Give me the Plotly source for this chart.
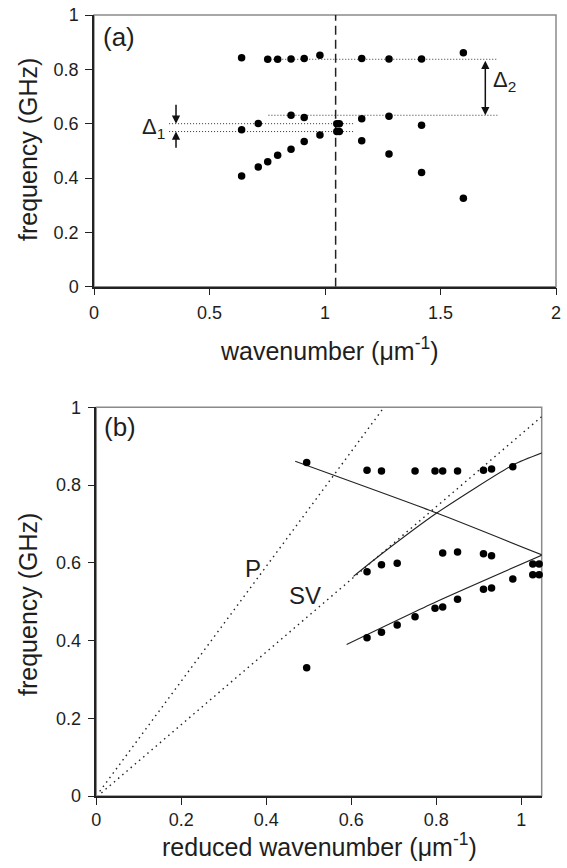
import plotly.graph_objects as go

# ---------------- Panel (a) data ----------------
a_upper_x = [0.639, 0.752, 0.795, 0.853, 0.910, 0.978, 1.159, 1.277, 1.418, 1.599]
a_upper_y = [0.843, 0.837, 0.837, 0.838, 0.840, 0.852, 0.840, 0.838, 0.838, 0.861]
a_mid_x = [0.639, 0.711, 0.853, 0.910, 1.051, 1.062, 1.051, 1.062, 1.159, 1.277, 1.418]
a_mid_y = [0.578, 0.601, 0.631, 0.623, 0.600, 0.600, 0.571, 0.571, 0.618, 0.627, 0.594]
a_low_x = [0.639, 0.711, 0.752, 0.795, 0.853, 0.910, 0.978, 1.159, 1.277, 1.418, 1.599]
a_low_y = [0.407, 0.441, 0.460, 0.484, 0.506, 0.534, 0.558, 0.537, 0.488, 0.420, 0.326]

a_vline_x = 1.046
# horizontal dotted guide lines: (x_start, x_end, y)
a_guides_x0 = [0.75, 0.755, 0.325, 0.325]
a_guides_x1 = [1.746, 1.746, 1.13, 1.13]
a_guides_y = [0.837, 0.631, 0.600, 0.571]

# ---------------- Panel (b) data ----------------
b_x = [0.495, 0.495,
       0.637, 0.671, 0.750, 0.797, 0.815, 0.850, 0.911, 0.930, 0.980,
       0.637, 0.671, 0.708, 0.815, 0.850, 0.911, 0.930, 1.027, 1.042, 1.027, 1.042,
       0.637, 0.671, 0.708, 0.750, 0.797, 0.815, 0.850, 0.911, 0.930, 0.980]
b_y = [0.858, 0.330,
       0.838, 0.836, 0.836, 0.836, 0.836, 0.836, 0.838, 0.841, 0.847,
       0.577, 0.595, 0.599, 0.625, 0.628, 0.623, 0.618, 0.597, 0.597, 0.569, 0.569,
       0.407, 0.421, 0.440, 0.461, 0.483, 0.486, 0.506, 0.532, 0.535, 0.558]

# fitted curves
b_down_x = [0.468, 0.801, 1.049]
b_down_y = [0.861, 0.728, 0.620]
b_up_x = [0.605, 0.668, 0.801, 0.981, 1.052]
b_up_y = [0.565, 0.620, 0.728, 0.852, 0.884]
b_low_x = [0.589, 0.800, 1.049]
b_low_y = [0.390, 0.500, 0.620]
# sound lines
p_x = [0.008, 0.677]
p_y = [0.012, 1.0]
sv_x = [0.012, 1.048]
sv_y = [0.008, 0.976]

# tick labels
a_xticks = [0, 0.5, 1, 1.5, 2]
a_xtext = ["0", "0.5", "1", "1.5", "2"]
b_xticks = [0, 0.2, 0.4, 0.6, 0.8, 1.0]
b_xtext = ["0", "0.2", "0.4", "0.6", "0.8", "1"]
yticks = [0, 0.2, 0.4, 0.6, 0.8, 1.0]
ytext = ["0", "0.2", "0.4", "0.6", "0.8", "1"]

W, H = 567, 868
INK = "#1e1e1e"
FONT = "Liberation Sans, Arial, sans-serif"

fig = go.Figure()

mk = dict(color="black", size=7.5)

# ---- panel (a) ----
for gx0, gx1, gy in zip(a_guides_x0, a_guides_x1, a_guides_y):
    fig.add_trace(go.Scatter(x=[gx0, gx1], y=[gy, gy], mode="lines",
                             line=dict(color="#333", width=1, dash="1px,2px"),
                             xaxis="x", yaxis="y", hoverinfo="skip"))
fig.add_trace(go.Scatter(x=[a_vline_x, a_vline_x], y=[0, 1], mode="lines",
                         line=dict(color="#222", width=1.5, dash="9px,5px"),
                         xaxis="x", yaxis="y", hoverinfo="skip"))
for xs, ys in [(a_upper_x, a_upper_y), (a_mid_x, a_mid_y), (a_low_x, a_low_y)]:
    fig.add_trace(go.Scatter(x=xs, y=ys, mode="markers", marker=mk,
                             xaxis="x", yaxis="y", cliponaxis=False))

# ---- panel (b) ----
for xs, ys in [(p_x, p_y), (sv_x, sv_y)]:
    fig.add_trace(go.Scatter(x=xs, y=ys, mode="lines",
                             line=dict(color="#222", width=1.4, dash="1.5px,4px"),
                             xaxis="x2", yaxis="y2", hoverinfo="skip"))
for xs, ys in [(b_down_x, b_down_y), (b_up_x, b_up_y), (b_low_x, b_low_y)]:
    fig.add_trace(go.Scatter(x=xs, y=ys, mode="lines",
                             line=dict(color="#222", width=1.1, shape="spline", smoothing=0.6),
                             xaxis="x2", yaxis="y2", hoverinfo="skip", cliponaxis=False))
fig.add_trace(go.Scatter(x=b_x, y=b_y, mode="markers", marker=mk,
                         xaxis="x2", yaxis="y2", cliponaxis=False))

tickfont = dict(family=FONT, size=18, color=INK)
axcommon = dict(showgrid=False, zeroline=False, showline=True, linecolor="#222",
                linewidth=1.5, ticks="outside", ticklen=7, tickwidth=1.3,
                tickcolor="#222", tickfont=tickfont, fixedrange=True,
                automargin=False)

fig.update_layout(
    width=W, height=H, margin=dict(l=0, r=0, t=0, b=0),
    paper_bgcolor="white", plot_bgcolor="white", showlegend=False,
    xaxis=dict(domain=[94 / W, 556 / W], range=[0, 2], tickvals=a_xticks,
               ticktext=a_xtext, anchor="y", ticklabelstandoff=2, **axcommon),
    yaxis=dict(domain=[1 - 286.7 / H, 1 - 15 / H], range=[0, 1], tickvals=yticks,
               ticktext=ytext, anchor="x", ticklabelstandoff=3, **axcommon),
    xaxis2=dict(domain=[96.3 / W, 541.7 / W], range=[0, 1.048], tickvals=b_xticks,
                ticktext=b_xtext, anchor="y2", ticklabelstandoff=0, **axcommon),
    yaxis2=dict(domain=[1 - 796 / H, 1 - 407.3 / H], range=[0, 1], tickvals=yticks,
                ticktext=ytext, anchor="x2", ticklabelstandoff=3, **axcommon),
)

# gray frames
for xr, yr in [("x", "y"), ("x2", "y2")]:
    fig.add_shape(type="rect", xref=f"{xr} domain", yref=f"{yr} domain",
                  x0=0, x1=1, y0=0, y1=1, line=dict(color="#8a8a8a", width=1.5),
                  layer="below")

ann = []
def txt(text, x, y, xref, yref, size, xanchor="center", yanchor="middle", angle=0):
    ann.append(dict(text=text, x=x, y=y, xref=xref, yref=yref, showarrow=False,
                    xanchor=xanchor, yanchor=yanchor, textangle=angle,
                    font=dict(family=FONT, size=size, color=INK)))

# axis titles
txt("frequency (GHz)", 28 / W, 1 - 150 / H, "paper", "paper", 25, angle=-90)
txt("frequency (GHz)", 28 / W, 1 - 605 / H, "paper", "paper", 25, angle=-90)
txt("wavenumber (\u03bcm<sup>-1</sup>)", 329 / W, 1 - 349 / H, "paper", "paper", 25)
txt("reduced wavenumber (\u03bcm<sup>-1</sup>)", 319 / W, 1 - 845 / H, "paper", "paper", 25)

# panel labels
txt("(a)", 0.108, 0.919, "x", "y", 26)
txt("(b)", 0.056, 0.949, "x2", "y2", 26)
txt("P", 0.368, 0.586, "x2", "y2", 24)
txt("SV", 0.490, 0.515, "x2", "y2", 24)
txt("\u0394<sub>1</sub>", 0.318, 0.585, "x", "y", 22, xanchor="right")
txt("\u0394<sub>2</sub>", 1.72, 0.757, "x", "y", 22, xanchor="left")

# arrows
def arrow(x, y, ax, ay, side="end"):
    ann.append(dict(x=x, y=y, ax=ax, ay=ay, xref="x", yref="y", axref="x", ayref="y",
                    text="", showarrow=True, arrowhead=2, arrowsize=1.1,
                    arrowwidth=1.5, arrowcolor="#111", arrowside=side,
                    startarrowhead=2, startarrowsize=1.1))

arrow(0.355, 0.600, 0.355, 0.675)
arrow(0.355, 0.571, 0.355, 0.506)
arrow(1.694, 0.631, 1.694, 0.837, side="end+start")

fig.update_layout(annotations=ann)

fig.write_html("out.html")
